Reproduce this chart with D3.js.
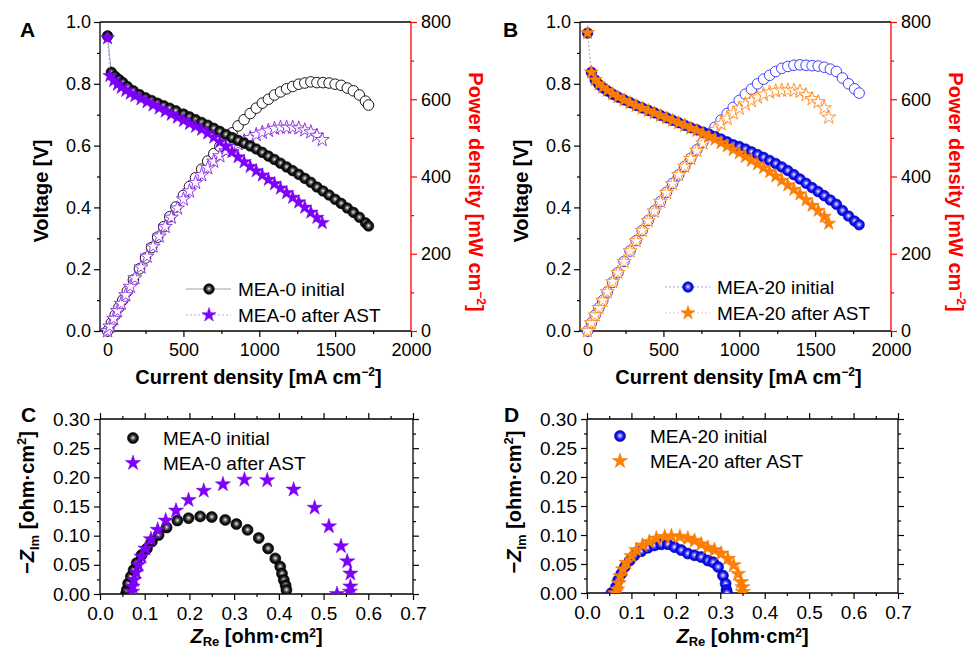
<!DOCTYPE html>
<html>
<head>
<meta charset="utf-8">
<style>
  body { margin: 0; background: #fff; }
  svg { display: block; font-family: Arial, 'Liberation Sans', Helvetica, sans-serif; }
</style>
</head>
<body>
<svg width="969" height="651"></svg>

<script src="https://d3js.org/d3.v7.min.js"></script>
<script>
// ---- polarization data, panel A (MEA-0) ----
const jA0 = [0,25,50,75,100,130,170,210,250,290,330,370,410,450,500,540,580,620,660,700,740,780,820,860,900,940,980,1020,1060,1100,1140,1180,1220,1260,1300,1340,1380,1420,1460,1500,1540,1580,1620,1660,1700,1720];
const vA0 = [0.955,0.837,0.824,0.814,0.804,0.791,0.777,0.765,0.755,0.746,0.737,0.729,0.721,0.713,0.702,0.693,0.684,0.675,0.666,0.656,0.646,0.636,0.626,0.617,0.608,0.599,0.589,0.578,0.566,0.555,0.543,0.531,0.519,0.507,0.494,0.481,0.466,0.453,0.440,0.426,0.413,0.398,0.384,0.368,0.350,0.340];
const pA0 = [0,21,41,61,80,103,132,161,189,216,243,270,296,321,351,374,397,419,440,459,478,496,513,531,547,563,577,590,600,611,619,627,633,639,642,645,643,643,642,639,636,629,622,611,595,585];

const jA1 = [0,15,40,65,90,120,150,180,220,260,300,340,380,420,460,500,540,580,620,660,700,740,780,820,860,900,940,980,1020,1060,1100,1140,1180,1220,1260,1300,1340,1380,1415];
const vA1 = [0.948,0.826,0.810,0.798,0.788,0.778,0.769,0.761,0.751,0.741,0.731,0.721,0.711,0.701,0.691,0.681,0.671,0.662,0.652,0.640,0.627,0.612,0.597,0.580,0.563,0.547,0.532,0.518,0.504,0.490,0.476,0.462,0.447,0.432,0.417,0.400,0.384,0.367,0.350];
const pA1 = [0,12,32,52,71,93,115,137,165,193,219,245,270,294,318,341,362,384,404,422,439,453,466,476,484,492,500,508,514,519,524,527,527,527,525,520,515,506,495];

// ---- polarization data, panel B (MEA-20) ----
const jB0 = [0,25,50,75,100,130,165,200,240,280,320,360,400,440,480,520,560,600,640,680,720,760,800,840,880,920,960,1000,1040,1080,1120,1160,1200,1240,1280,1320,1360,1400,1440,1480,1520,1560,1600,1640,1680,1720,1760,1790];
const vB0 = [0.964,0.837,0.812,0.798,0.787,0.777,0.766,0.757,0.748,0.739,0.730,0.722,0.714,0.706,0.698,0.690,0.682,0.674,0.666,0.658,0.651,0.644,0.637,0.629,0.621,0.612,0.603,0.597,0.589,0.580,0.571,0.562,0.552,0.542,0.531,0.519,0.506,0.492,0.478,0.464,0.451,0.438,0.424,0.410,0.390,0.372,0.356,0.344];
const pB0 = [0,21,41,60,79,101,126,151,180,207,234,260,286,311,335,359,382,404,426,447,469,489,510,528,546,563,579,597,613,626,640,652,662,672,680,685,688,689,688,687,686,683,678,672,655,640,627,616];

const jB1 = [0,25,50,75,100,130,165,200,240,280,320,360,400,440,480,520,560,600,640,680,720,760,800,840,880,920,960,1000,1040,1080,1120,1160,1200,1240,1280,1320,1360,1400,1440,1480,1520,1560,1590];
const vB1 = [0.965,0.837,0.813,0.799,0.788,0.778,0.767,0.757,0.747,0.738,0.729,0.721,0.713,0.705,0.697,0.689,0.681,0.673,0.665,0.656,0.648,0.639,0.630,0.620,0.609,0.598,0.587,0.576,0.564,0.552,0.540,0.528,0.515,0.501,0.487,0.472,0.458,0.443,0.424,0.406,0.390,0.370,0.348];
const pB1 = [0,21,41,60,79,101,127,151,179,207,233,260,285,310,335,358,381,404,426,446,467,486,504,521,536,550,564,576,587,596,605,612,618,621,623,623,623,620,611,601,593,577,553];

// ---- impedance data (Nyquist) ----
const reC0 = [0.058,0.060,0.063,0.069,0.075,0.082,0.093,0.105,0.116,0.131,0.149,0.173,0.198,0.224,0.250,0.280,0.305,0.330,0.355,0.376,0.392,0.403,0.407,0.411,0.415,0.417];
const imC0 = [0.000,0.007,0.018,0.030,0.041,0.053,0.067,0.078,0.090,0.101,0.114,0.126,0.130,0.133,0.132,0.127,0.120,0.110,0.096,0.078,0.061,0.047,0.035,0.024,0.015,0.007];
const reC1 = [0.072,0.073,0.076,0.081,0.086,0.093,0.102,0.114,0.129,0.147,0.170,0.198,0.232,0.275,0.323,0.374,0.433,0.480,0.512,0.539,0.553,0.560,0.560,0.559,0.530];
const imC1 = [0.004,0.013,0.024,0.037,0.050,0.064,0.078,0.094,0.110,0.126,0.143,0.161,0.177,0.188,0.196,0.195,0.179,0.148,0.116,0.082,0.056,0.035,0.013,0.004,0.000];
const reD0 = [0.055,0.062,0.065,0.070,0.077,0.085,0.096,0.107,0.122,0.137,0.152,0.167,0.182,0.197,0.212,0.227,0.242,0.257,0.272,0.284,0.295,0.306,0.312,0.314,0.315];
const imD0 = [0.000,0.002,0.010,0.022,0.033,0.045,0.056,0.065,0.072,0.078,0.082,0.084,0.084,0.079,0.074,0.068,0.065,0.062,0.056,0.053,0.045,0.030,0.016,0.005,0.000];
const reD1 = [0.063,0.068,0.071,0.075,0.081,0.089,0.100,0.111,0.125,0.140,0.156,0.175,0.190,0.209,0.227,0.242,0.257,0.272,0.287,0.302,0.317,0.330,0.340,0.347,0.350,0.351];
const imD1 = [0.000,0.006,0.017,0.029,0.041,0.052,0.064,0.074,0.082,0.088,0.094,0.097,0.098,0.097,0.094,0.090,0.084,0.078,0.074,0.068,0.059,0.048,0.033,0.019,0.010,0.002];

// tick values
const jTicks = [0,500,1000,1500,2000], jMinor = [250,750,1250,1750];
const vTicks = [0,0.2,0.4,0.6,0.8,1.0], vMinor = [0.1,0.3,0.5,0.7,0.9];
const pTicks = [0,200,400,600,800], pMinor = [100,300,500,700];
const reTicks = [0,0.1,0.2,0.3,0.4,0.5,0.6,0.7], reMinor = [0.05,0.15,0.25,0.35,0.45,0.55,0.65];
const imTicks = [0,0.05,0.10,0.15,0.20,0.25,0.30], imMinor = [0.025,0.075,0.125,0.175,0.225,0.275];

const FONT = "Arial, 'Liberation Sans', Helvetica, sans-serif";
const svg = d3.select("svg");
const defs = svg.append("defs");

function sphereGrad(id, c1, c2, edge) {
  let gr = defs.append("radialGradient").attr("id", id)
    .attr("cx", "50%").attr("cy", "50%").attr("r", "50%").attr("fx", "50%").attr("fy", "47%");
  gr.append("stop").attr("offset", "0%").attr("stop-color", "#ffffff");
  gr.append("stop").attr("offset", "22%").attr("stop-color", c1);
  gr.append("stop").attr("offset", "60%").attr("stop-color", c2);
  gr.append("stop").attr("offset", "100%").attr("stop-color", edge);
}
sphereGrad("gBlack", "#909090", "#1c1c1c", "#000000");
sphereGrad("gBlue", "#9a9aff", "#1a1aff", "#0000b8");

const circ = d3.symbol(d3.symbolCircle, 88)();
const star = d3.symbol(d3.symbolStar, 62)();
const starBig = d3.symbol(d3.symbolStar, 72)();

function axis(g, gen, tr, color, fs) {
  let a = g.append("g").attr("transform", tr).call(gen);
  a.select(".domain").remove();
  a.selectAll("line").attr("stroke", color).attr("stroke-width", 1.2);
  a.selectAll("text").attr("fill", "#000").style("font-size", fs + "px").style("font-family", FONT);
  return a;
}

function frameLine(g, x1, y1, x2, y2, color) {
  g.append("line").attr("x1", x1).attr("y1", y1).attr("x2", x2).attr("y2", y2)
    .attr("stroke", color).attr("stroke-width", 1.3);
}

function series(g, xs, ys, x, y, st) {
  let pts = xs.map((v, i) => [x(v), y(ys[i])]);
  if (st.line) {
    g.append("path").attr("d", d3.line()(pts)).attr("fill", "none")
      .attr("stroke", st.line).attr("stroke-width", 0.8)
      .attr("stroke-dasharray", st.dash || null);
  }
  g.append("g").selectAll("path").data(pts).join("path")
    .attr("transform", d => `translate(${d[0]},${d[1]})`)
    .attr("d", st.sym)
    .attr("fill", st.fill)
    .attr("stroke", st.stroke)
    .attr("stroke-width", st.sw);
}

function title(g, x, y, rot, parts, color) {
  let t = g.append("text")
    .attr("transform", `translate(${x},${y}) rotate(${rot})`)
    .attr("text-anchor", "middle")
    .style("font-family", FONT).style("font-size", "20px").style("font-weight", "bold")
    .attr("fill", color || "#000");
  parts.forEach(p => {
    t.append("tspan").text(p[0]).attr("dy", p[1] || 0)
      .style("font-size", p[2] ? p[2] + "px" : null)
      .style("font-style", p[3] ? "italic" : null);
  });
}

function letter(x, y, s) {
  svg.append("text").attr("x", x).attr("y", y).text(s)
    .style("font-family", FONT).style("font-size", "21px").style("font-weight", "bold");
}

const styles = {
  blackIV:  { sym: circ, fill: "url(#gBlack)", stroke: "#000", sw: 0.6, line: "#888" },
  blackP:   { sym: circ, fill: "#fff", stroke: "#000", sw: 0.9 },
  purpleIV: { sym: star, fill: "#8000ff", stroke: "#7000e0", sw: 0.5, line: "#b58cff", dash: "2,2" },
  purpleP:  { sym: star, fill: "#fff", stroke: "#8a2be2", sw: 0.9 },
  blueIV:   { sym: circ, fill: "url(#gBlue)", stroke: "#0000c0", sw: 0.6, line: "#7f7fff", dash: "2,2" },
  blueP:    { sym: circ, fill: "#fff", stroke: "#2a2aff", sw: 0.9 },
  orangeIV: { sym: star, fill: "#ff8000", stroke: "#f07000", sw: 0.5, line: "#ffb0a0", dash: "2,2" },
  orangeP:  { sym: star, fill: "#fff", stroke: "#ff8a1a", sw: 0.9 }
};

function polPanel(o) {
  let g = svg.append("g");
  let x = d3.scaleLinear().domain([-50, 2000]).range([o.left, o.right]);
  let y = d3.scaleLinear().domain([0, 1]).range([o.bottom, o.top]);
  let yp = d3.scaleLinear().domain([0, 800]).range([o.bottom, o.top]);

  axis(g, d3.axisBottom(x).tickValues(jTicks).tickSize(6).tickPadding(6).tickFormat(d3.format("d")), `translate(0,${o.bottom})`, "#000", 18);
  axis(g, d3.axisBottom(x).tickValues(jMinor).tickSize(3).tickFormat(""), `translate(0,${o.bottom})`, "#000", 18);
  axis(g, d3.axisLeft(y).tickValues(vTicks).tickSize(6).tickPadding(3).tickFormat(d3.format(".1f")), `translate(${o.left},0)`, "#000", 18);
  axis(g, d3.axisLeft(y).tickValues(vMinor).tickSize(3).tickFormat(""), `translate(${o.left},0)`, "#000", 18);
  axis(g, d3.axisRight(yp).tickValues(pTicks).tickSize(6).tickPadding(4).tickFormat(d3.format("d")), `translate(${o.right},0)`, "#ff0000", 18);
  axis(g, d3.axisRight(yp).tickValues(pMinor).tickSize(3).tickFormat(""), `translate(${o.right},0)`, "#ff0000", 18);

  frameLine(g, o.left, o.top, o.right, o.top, "#000");
  frameLine(g, o.left, o.bottom, o.right, o.bottom, "#000");
  frameLine(g, o.left, o.top, o.left, o.bottom, "#000");
  frameLine(g, o.right, o.top, o.right, o.bottom, "#ff0000");

  o.series.forEach(s => series(g, s.j, s.p, x, yp, s.pst));
  o.series.forEach(s => series(g, s.j, s.v, x, y, s.st));

  // legend
  o.series.forEach((s, i) => {
    let ly = o.legY + i * 26;
    g.append("line").attr("x1", o.legX - 23).attr("x2", o.legX + 22).attr("y1", ly).attr("y2", ly)
      .attr("stroke", s.st.line).attr("stroke-width", 0.8).attr("stroke-dasharray", s.st.dash || null);
    g.append("path").attr("transform", `translate(${o.legX},${ly})`).attr("d", s.st.sym)
      .attr("fill", s.st.fill).attr("stroke", s.st.stroke).attr("stroke-width", s.st.sw);
    g.append("text").attr("x", o.legX + 29).attr("y", ly).attr("dy", "0.35em").text(s.name)
      .style("font-family", FONT).style("font-size", "19px");
  });

  title(g, (o.left + o.right) / 2 + 3, 384, 0,
    [["Current density [mA cm"], ["−2", -8, 12], ["]", 8]]);
  title(g, o.left - 52, 191, -90, [["Voltage [V]"]]);
  title(g, o.right + 58, 192, 90,
    [["Power density [mW cm"], ["−2", -8, 12], ["]", 8]], "#ff0000");
}

function eisPanel(o) {
  let g = svg.append("g");
  let x = d3.scaleLinear().domain([0, 0.7]).range([o.left, o.right]);
  let y = d3.scaleLinear().domain([0, 0.3]).range([o.bottom, o.top]);

  axis(g, d3.axisBottom(x).tickValues(reTicks).tickSize(6).tickPadding(7).tickFormat(d3.format(".1f")), `translate(0,${o.bottom})`, "#000", 19);
  axis(g, d3.axisBottom(x).tickValues(reMinor).tickSize(3).tickFormat(""), `translate(0,${o.bottom})`, "#000", 19);
  axis(g, d3.axisTop(x).tickValues(reTicks).tickSize(6).tickFormat(""), `translate(0,${o.top})`, "#000", 19);
  axis(g, d3.axisTop(x).tickValues(reMinor).tickSize(3).tickFormat(""), `translate(0,${o.top})`, "#000", 19);
  axis(g, d3.axisLeft(y).tickValues(imTicks).tickSize(6).tickPadding(4).tickFormat(d3.format(".2f")), `translate(${o.left},0)`, "#000", 19);
  axis(g, d3.axisLeft(y).tickValues(imMinor).tickSize(3).tickFormat(""), `translate(${o.left},0)`, "#000", 19);
  axis(g, d3.axisRight(y).tickValues(imTicks).tickSize(6).tickFormat(""), `translate(${o.right},0)`, "#000", 19);
  axis(g, d3.axisRight(y).tickValues(imMinor).tickSize(3).tickFormat(""), `translate(${o.right},0)`, "#000", 19);

  frameLine(g, o.left, o.top, o.right, o.top, "#000");
  frameLine(g, o.left, o.bottom, o.right, o.bottom, "#000");
  frameLine(g, o.left, o.top, o.left, o.bottom, "#000");
  frameLine(g, o.right, o.top, o.right, o.bottom, "#000");

  let cid = "clip" + o.id;
  defs.append("clipPath").attr("id", cid).append("rect")
    .attr("x", o.left).attr("y", o.top).attr("width", o.right - o.left).attr("height", o.bottom - o.top);
  let pg = g.append("g").attr("clip-path", `url(#${cid})`);
  o.series.forEach(s => series(pg, s.re, s.im, x, y, s.st));

  o.series.forEach((s, i) => {
    let ly = o.legY + i * 25;
    g.append("path").attr("transform", `translate(${o.legX},${ly})`).attr("d", s.st.sym)
      .attr("fill", s.st.fill).attr("stroke", s.st.stroke).attr("stroke-width", s.st.sw);
    g.append("text").attr("x", o.legX + 30).attr("y", ly).attr("dy", "0.35em").text(s.name)
      .style("font-family", FONT).style("font-size", "19px");
  });

  title(g, (o.left + o.right) / 2, 643, 0,
    [["Z", 0, null, true], ["Re", 3, 13], [" [ohm·cm", -3], ["2", -6, 12], ["]", 6]]);
  title(g, o.left - 66, (o.top + o.bottom) / 2 - 4, -90,
    [["−", 0], ["Z", 0, null, true], ["Im", 5, 13], [" [ohm·cm", -5], ["2", -8, 13], ["]", 8]]);
}

polPanel({
  left: 100, right: 411, top: 22, bottom: 331, legX: 209, legY: 289,
  series: [
    { name: "MEA-0 initial", j: jA0, v: vA0, p: pA0, st: styles.blackIV, pst: styles.blackP },
    { name: "MEA-0 after AST", j: jA1, v: vA1, p: pA1, st: styles.purpleIV, pst: styles.purpleP }
  ]
});
polPanel({
  left: 580, right: 891, top: 22, bottom: 331, legX: 688, legY: 287,
  series: [
    { name: "MEA-20 initial", j: jB0, v: vB0, p: pB0, st: styles.blueIV, pst: styles.blueP },
    { name: "MEA-20 after AST", j: jB1, v: vB1, p: pB1, st: styles.orangeIV, pst: styles.orangeP }
  ]
});

const eisBlack = { sym: d3.symbol(d3.symbolCircle, 95)(), fill: "url(#gBlack)", stroke: "#000", sw: 0.6 };
const eisPurple = { sym: starBig, fill: "#8000ff", stroke: "#7000e0", sw: 0.5 };
const eisBlue = { sym: d3.symbol(d3.symbolCircle, 95)(), fill: "url(#gBlue)", stroke: "#0000c0", sw: 0.6 };
const eisOrange = { sym: starBig, fill: "#ff8000", stroke: "#f07000", sw: 0.5 };

eisPanel({
  id: "C", left: 100, right: 413, top: 419, bottom: 594, legX: 133, legY: 438,
  series: [
    { name: "MEA-0 initial", re: reC0, im: imC0, st: eisBlack },
    { name: "MEA-0 after AST", re: reC1, im: imC1, st: eisPurple }
  ]
});
eisPanel({
  id: "D", left: 587, right: 898, top: 419, bottom: 593, legX: 620, legY: 436,
  series: [
    { name: "MEA-20 initial", re: reD0, im: imD0, st: eisBlue },
    { name: "MEA-20 after AST", re: reD1, im: imD1, st: eisOrange }
  ]
});

letter(20, 37, "A");
letter(503, 37, "B");
letter(21, 422, "C");
letter(504, 422, "D");
</script>
</body>
</html>
